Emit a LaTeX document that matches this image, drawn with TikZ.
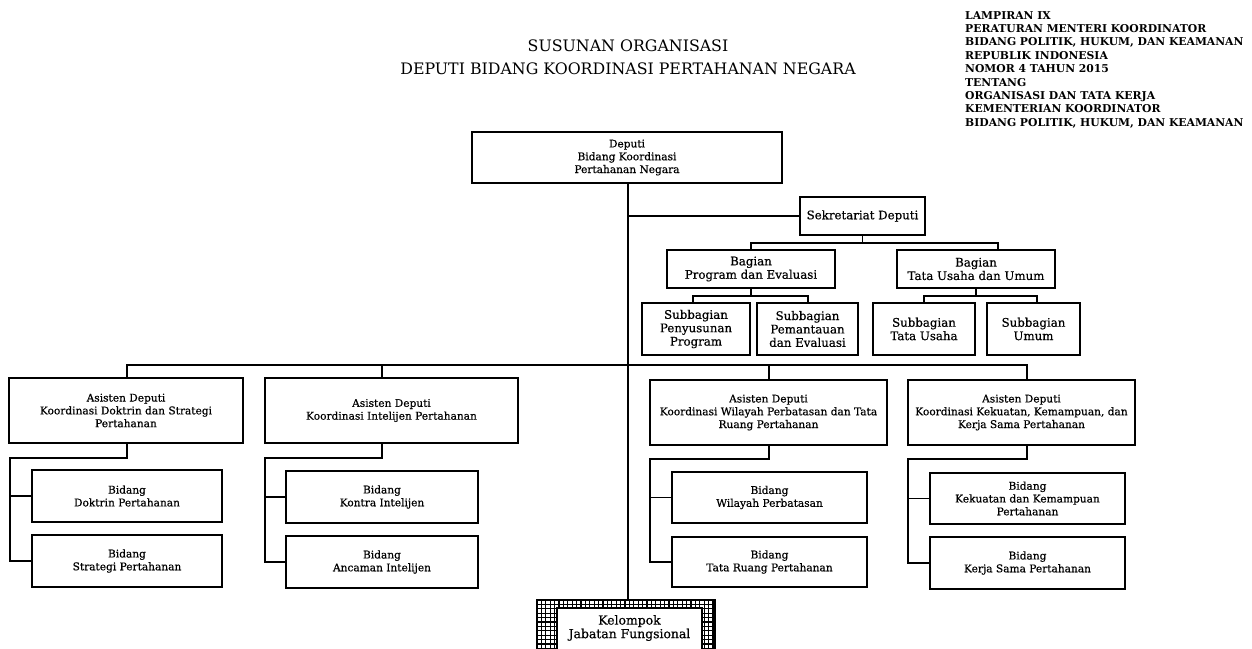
\documentclass[tikz,border=0pt]{standalone}
\usepackage{fontspec}
\setmainfont{DejaVu Serif}
\newfontfamily\boxfont[FakeBold=0.6]{DejaVu Serif}
\begin{document}
\begin{tikzpicture}[x=1pt,y=-1pt,
  box/.style={draw, line width=1.7pt, align=center, inner sep=1pt,
    font=\boxfont\fontsize{10.6}{12.8}\selectfont},
  upbox/.style={box, font=\boxfont\fontsize{11.8}{13.4}\selectfont},
  conn/.style={line width=1.8pt},
  every node/.append style={text=black}]
\useasboundingbox (0,0) rectangle (1252,648);
\clip (0,0) rectangle (1252,648);
% titles
\node[font=\fontsize{15.8}{22.5}\selectfont, align=center] (title) at (628,57)
  {SUSUNAN ORGANISASI\\DEPUTI BIDANG KOORDINASI PERTAHANAN NEGARA};
\node[font=\bfseries\fontsize{10.8}{13.4}\selectfont, align=left, anchor=north west, inner sep=0pt] (lamp) at (965,11)
  {LAMPIRAN IX\\PERATURAN MENTERI KOORDINATOR\\BIDANG POLITIK, HUKUM, DAN KEAMANAN\\REPUBLIK INDONESIA\\NOMOR 4 TAHUN 2015\\TENTANG\\ORGANISASI DAN TATA KERJA\\KEMENTERIAN KOORDINATOR\\BIDANG POLITIK, HUKUM, DAN KEAMANAN};
% top boxes
\node[box, minimum width=310, minimum height=51] (dep) at (627,157.5) {Deputi\\Bidang Koordinasi\\Pertahanan Negara};
\node[upbox, minimum width=125, minimum height=38] (sek) at (862.5,216) {Sekretariat Deputi};
\node[upbox, minimum width=168, minimum height=38] (bprog) at (751,269) {Bagian\\Program dan Evaluasi};
\node[upbox, minimum width=158, minimum height=38] (btu) at (976,269) {Bagian\\Tata Usaha dan Umum};
\node[upbox, minimum width=108, minimum height=52] (s1) at (696,329) {Subbagian\\Penyusunan\\Program};
\node[upbox, minimum width=101, minimum height=52] (s2) at (807.5,329) {Subbagian\\Pemantauan\\dan Evaluasi};
\node[upbox, minimum width=102, minimum height=52] (s3) at (924,329) {Subbagian\\Tata Usaha};
\node[upbox, minimum width=93, minimum height=52] (s4) at (1033.5,329) {Subbagian\\Umum};
% asisten
\node[box, minimum width=234, minimum height=65] (a1) at (126,410.5) {Asisten Deputi\\Koordinasi Doktrin dan Strategi\\Pertahanan};
\node[box, minimum width=253, minimum height=65] (a2) at (391.5,410.5) {Asisten Deputi\\Koordinasi Intelijen Pertahanan};
\node[box, minimum width=237, minimum height=65] (a3) at (768.5,412.5) {Asisten Deputi\\Koordinasi Wilayah Perbatasan dan Tata\\Ruang Pertahanan};
\node[box, minimum width=227, minimum height=65] (a4) at (1021.5,412.5) {Asisten Deputi\\Koordinasi Kekuatan, Kemampuan, dan\\Kerja Sama Pertahanan};
% bidang
\node[box, minimum width=190, minimum height=52] (b11) at (127,496) {Bidang\\Doktrin Pertahanan};
\node[box, minimum width=190, minimum height=52] (b12) at (127,561) {Bidang\\Strategi Pertahanan};
\node[box, minimum width=192, minimum height=52] (b21) at (382,497) {Bidang\\Kontra Intelijen};
\node[box, minimum width=192, minimum height=52] (b22) at (382,562) {Bidang\\Ancaman Intelijen};
\node[box, minimum width=195, minimum height=51] (b31) at (769.5,497.5) {Bidang\\Wilayah Perbatasan};
\node[box, minimum width=195, minimum height=50] (b32) at (769.5,562) {Bidang\\Tata Ruang Pertahanan};
\node[box, minimum width=195, minimum height=51] (b41) at (1027.5,498.5) {Bidang\\Kekuatan dan Kemampuan\\Pertahanan};
\node[box, minimum width=195, minimum height=52] (b42) at (1027.5,563) {Bidang\\Kerja Sama Pertahanan};
% kelompok
\node[draw, line width=1.7pt, minimum width=178, minimum height=60, inner sep=0pt] (kelbox) at (626,630) {};
\begin{scope}
  \clip (kelbox.north west) rectangle (kelbox.south east);
  \foreach \i in {0,...,41} {\draw[line width=1.1pt] (537+\i*4.4,600) -- (537+\i*4.4,660);}
  \foreach \j in {0,...,14} {\draw[line width=1.1pt] (537,600+\j*4.4) -- (715,600+\j*4.4);}
\end{scope}
\draw[line width=1.7pt, fill=white] (557,608) rectangle (702,670);
\node[font=\boxfont\fontsize{12.4}{13.6}\selectfont, align=center] (kel) at (629.5,628) {Kelompok\\Jabatan Fungsional};
% connectors
\coordinate (bus) at (628,365);
\draw[conn] (dep.south -| 628,0) -- (kelbox.north -| 628,0);
\draw[conn] (sek.west) -- (sek.west -| 628,0);
\draw[conn] (sek.south) -- ++(0,7) -| (bprog.north);
\draw[conn] (sek.south) ++(0,7) -| (btu.north -| 998,0);
\draw[conn] (bprog.south) -- ++(0,7) -| (s1.north -| 693,0);
\draw[conn] (bprog.south) ++(0,7) -| (s2.north -| 808,0);
\draw[conn] (btu.south) -- ++(0,7) -| (s3.north);
\draw[conn] (btu.south) ++(0,7) -| (s4.north -| 1037,0);
\draw[conn] (a1.north -| 127,0) |- (bus);
\draw[conn] (a2.north -| 382,0) -- (bus -| 382,0);
\draw[conn] (a3.north -| 769,0) -- (bus -| 769,0);
\draw[conn] (a4.north -| 1027,0) |- (bus);
% sub connectors
\draw[conn] (a1.south -| 127,0) -- ++(0,14) -| (b12.west -| 10,0) -- (b12.west);
\draw[conn] (b11.west -| 10,0) -- (b11.west);
\draw[conn] (a2.south -| 382,0) -- ++(0,14) -| (b22.west -| 265,0) -- (b22.west);
\draw[conn] (b21.west -| 265,0) -- (b21.west);
\draw[conn] (a3.south -| 769,0) -- ++(0,13) -| (b32.west -| 650,0) -- (b32.west);
\draw[conn] (b31.west -| 650,0) -- (b31.west);
\draw[conn] (a4.south -| 1027,0) -- ++(0,13) -| (b42.west -| 908,0) -- (b42.west);
\draw[conn] (b41.west -| 908,0) -- (b41.west);
\end{tikzpicture}
\end{document}
